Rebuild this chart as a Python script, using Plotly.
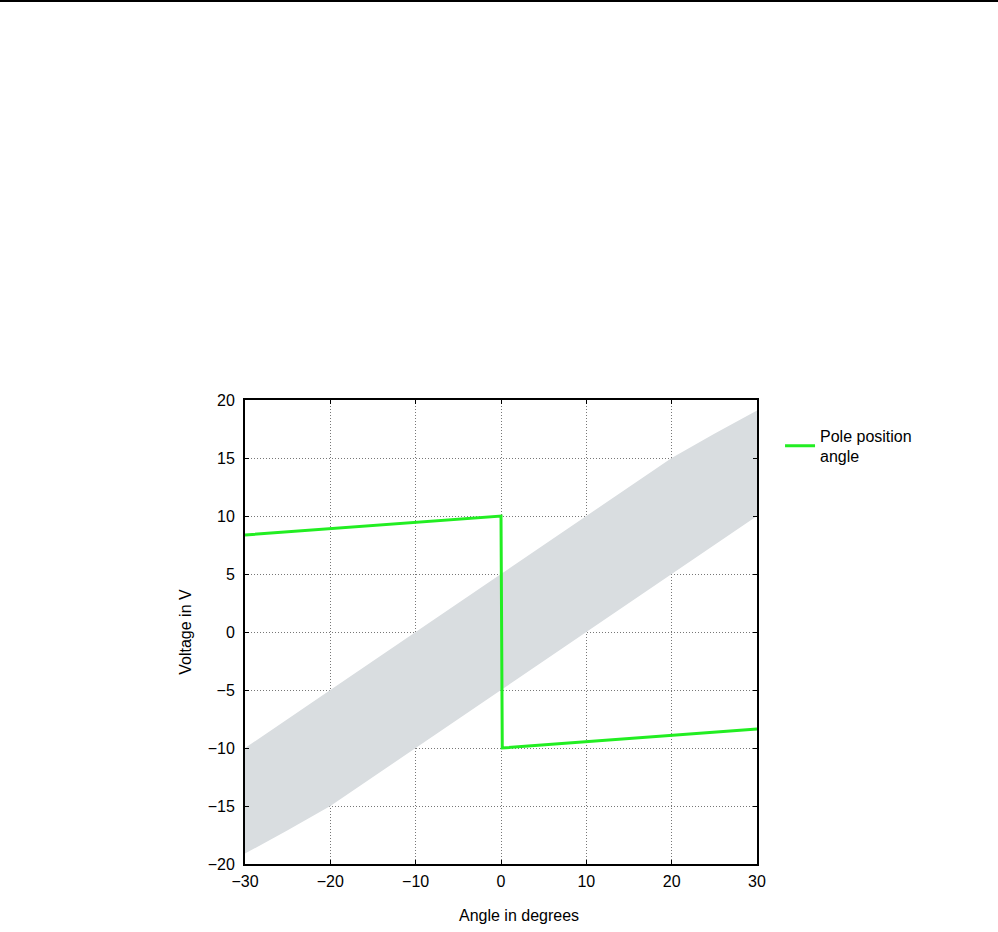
import plotly.graph_objects as go

# Green "Pole position angle" line
angle_x = [-30, 0, 0.15, 30]
angle_v = [8.36, 10, -10, -8.36]

# Gray tolerance band boundaries
band_upper_x = [-30, -20, -10, 0, 10, 20, 25, 30]
band_upper_v = [-10, -5, 0, 5, 10, 15, 17.1, 19.1]
band_lower_x = [-30, -25, -20, -10, 0, 10, 20, 30]
band_lower_v = [-19.1, -17.1, -15, -10, -5, 0, 5, 10]

x_ticks = [-30, -20, -10, 0, 10, 20, 30]
y_ticks = [-20, -15, -10, -5, 0, 5, 10, 15, 20]

FONT = "Liberation Sans, Arial, sans-serif"

fig = go.Figure()
fig.add_trace(go.Scatter(
    x=band_upper_x + band_lower_x[::-1],
    y=band_upper_v + band_lower_v[::-1],
    fill="toself", fillcolor="#d9dde0", mode="none",
    showlegend=False, hoverinfo="skip"))
fig.add_trace(go.Scatter(
    x=angle_x, y=angle_v, mode="lines",
    line=dict(color="#22ee22", width=3),
    name="Pole position<br>angle"))

axis_common = dict(
    showline=True, linecolor="black", linewidth=2, mirror="ticks",
    ticks="inside", ticklen=4, tickcolor="black", tickwidth=1,
    showgrid=True, gridcolor="#777777", gridwidth=1, griddash="1px,2px",
    zeroline=False, tickfont=dict(family=FONT, size=16, color="black"),
)

fig.update_xaxes(range=[-30, 30], tickvals=x_ticks, ticklabelstandoff=2,
                 **axis_common)
fig.update_yaxes(range=[-20, 20], tickvals=y_ticks, ticklabelstandoff=5,
                 title=dict(text="Voltage in V", font=dict(family=FONT, size=16, color="black"), standoff=12),
                 **axis_common)

fig.update_layout(
    width=998, height=932,
    margin=dict(l=245, r=241, t=400, b=68, autoexpand=False),
    paper_bgcolor="white", plot_bgcolor="white",
    font=dict(family=FONT, size=16, color="black"),
    legend=dict(x=1.045, y=0.96, xanchor="left", yanchor="top",
                bgcolor="rgba(0,0,0,0)", font=dict(family=FONT, size=16, color="black"),
                itemwidth=30),
    annotations=[dict(text="Angle in degrees", xref="paper", yref="paper",
                      x=0.536, y=-(915 - 864) / 464, xanchor="center", yanchor="middle",
                      showarrow=False, font=dict(family=FONT, size=16, color="black"))],
    shapes=[dict(type="line", xref="paper", yref="paper",
                 x0=-0.48, x1=1.48, y0=1 + 399/464, y1=1 + 399/464,
                 line=dict(color="black", width=2))],
)

fig.write_html("out.html", config={"displayModeBar": False},
               post_script="document.body.style.margin='0';")
